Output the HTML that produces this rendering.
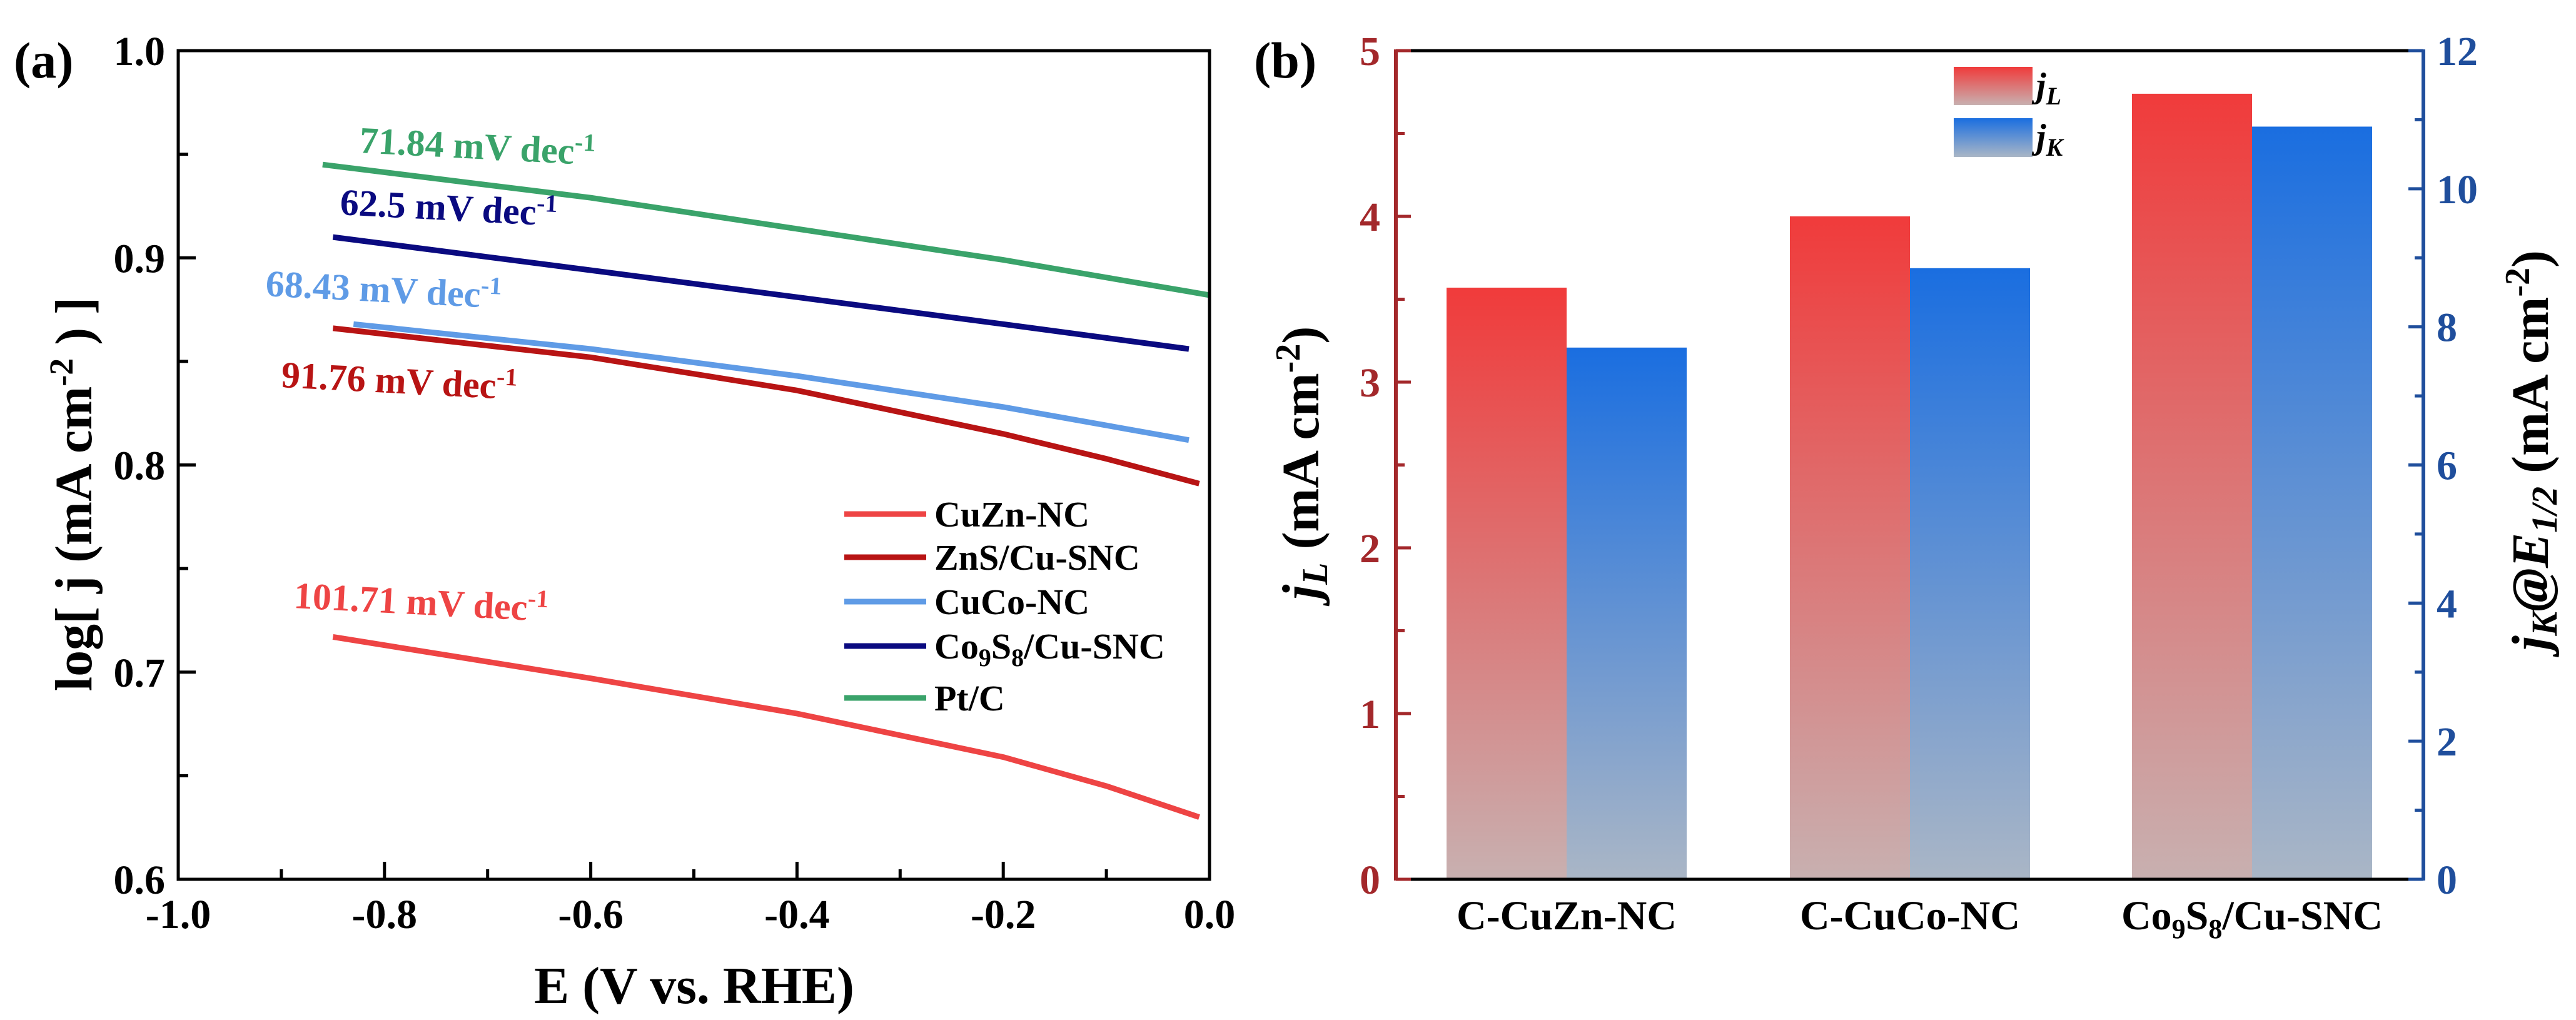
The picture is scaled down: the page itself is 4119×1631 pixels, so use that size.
<!DOCTYPE html>
<html><head><meta charset="utf-8"><style>
html,body{margin:0;padding:0;background:#fff}
svg{display:block;font-family:"Liberation Serif",serif;font-weight:bold}
</style></head><body>
<svg id="fig" width="4119" height="1631" viewBox="0 0 4119 1631" xmlns="http://www.w3.org/2000/svg">
<defs>
<linearGradient id="gr" x1="0" y1="0" x2="0" y2="1"><stop offset="0" stop-color="#f03b3b"/><stop offset="1" stop-color="#c8b0b0"/></linearGradient>
<linearGradient id="gb" x1="0" y1="0" x2="0" y2="1"><stop offset="0" stop-color="#1a6ee0"/><stop offset="1" stop-color="#aab6c6"/></linearGradient>
</defs>
<g id="pa"></g>
<g id="pb"></g>
</svg>
<script>
// Panel A data
const seriesNames = ["CuZn-NC","ZnS/Cu-SNC","CuCo-NC","Co9S8/Cu-SNC","Pt/C"];
const seriesColors = ["#ee4444","#b81414","#5f9be6","#0a0a80","#3aa36a"];
const xCuZn = [-0.85,-0.6,-0.4,-0.2,-0.1,-0.01];
const yCuZn = [0.717,0.697,0.680,0.659,0.645,0.630];
const xZnS = [-0.85,-0.6,-0.4,-0.2,-0.1,-0.01];
const yZnS = [0.866,0.852,0.836,0.815,0.803,0.791];
const xCuCo = [-0.83,-0.6,-0.4,-0.2,-0.02];
const yCuCo = [0.868,0.856,0.843,0.828,0.812];
const xCoS = [-0.85,-0.6,-0.4,-0.2,-0.02];
const yCoS = [0.910,0.894,0.881,0.868,0.856];
const xPt = [-0.86,-0.6,-0.4,-0.2,0.0];
const yPt = [0.945,0.929,0.914,0.899,0.882];
const slopeLabels = ["101.71","91.76","68.43","62.5","71.84"];
const xTicksA = [-1.0,-0.8,-0.6,-0.4,-0.2,0.0];
const yTicksA = [0.6,0.7,0.8,0.9,1.0];
// Panel B data
const categories = ["C-CuZn-NC","C-CuCo-NC","Co9S8/Cu-SNC"];
const jL = [3.57,4.0,4.74];
const jK = [7.7,8.85,10.9];
const yTicksL = [0,1,2,3,4,5];
const yTicksR = [0,2,4,6,8,10,12];

const NS="http://www.w3.org/2000/svg";
function mk(p,t,a,txt){const e=document.createElementNS(NS,t);for(const k in a)e.setAttribute(k,a[k]);if(txt!==undefined)e.textContent=txt;p.appendChild(e);return e;}

// ---- Panel A
const A=document.getElementById('pa');
const L=285,R=1934,T=81,B=1406;
const xa=v=>L+(v+1)*(R-L);
const ya=v=>B-(v-0.6)/0.4*(B-T);
const xs=[xCuZn,xZnS,xCuCo,xCoS,xPt], ys=[yCuZn,yZnS,yCuCo,yCoS,yPt];
for(let i=0;i<5;i++){
  const d=xs[i].map((x,j)=>(j?'L':'M')+xa(x).toFixed(1)+','+ya(ys[i][j]).toFixed(1)).join(' ');
  const p=mk(A,'path',{d:d,fill:'none',stroke:seriesColors[i],'stroke-width':9,'stroke-linejoin':'round'});
  
  
}
const annPos=[[469,972],[449,619],[424,473],[543,343],[574,244]];
for(let i=0;i<5;i++){
  const t=mk(A,'text',{x:annPos[i][0],y:annPos[i][1],fill:seriesColors[i],'font-size':60,transform:'rotate(3 '+annPos[i][0]+' '+annPos[i][1]+')'});
  
  
  t.innerHTML=slopeLabels[i]+' mV dec<tspan dy="-22" font-size="40">-1</tspan>';
}
mk(A,'rect',{x:L,y:T,width:R-L,height:B-T,fill:'none',stroke:'#000','stroke-width':5});
for(let v=-1;v<=0.001;v+=0.1){const X=xa(v);const maj=Math.abs(Math.round(v*10)%2)===0;mk(A,'line',{x1:X,y1:B,x2:X,y2:B-(maj?28:16),stroke:'#000','stroke-width':5});}
for(let v=0.6;v<=1.0001;v+=0.05){const Y=ya(v);const maj=Math.abs(Math.round(v*100)%10)===0;mk(A,'line',{x1:L,y1:Y,x2:L+(maj?28:16),y2:Y,stroke:'#000','stroke-width':5});}
xTicksA.forEach(v=>{const t=mk(A,'text',{x:xa(v),y:1484,'text-anchor':'middle','font-size':66},v.toFixed(1));});
yTicksA.forEach(v=>{const t=mk(A,'text',{x:264,y:ya(v)+23,'text-anchor':'end','font-size':66},v.toFixed(1));});
let t=mk(A,'text',{x:1110,y:1604,'text-anchor':'middle','font-size':84},'E (V vs. RHE)');
t=mk(A,'text',{x:0,y:0,'text-anchor':'middle','font-size':84,transform:'translate(146 790) rotate(-90)'});
t.innerHTML='log[ j (mA cm<tspan dy="-30" font-size="54">-2</tspan><tspan dy="30"> ) ]</tspan>';
t=mk(A,'text',{x:22,y:124,'font-size':82},'(a)');
const legY=[822,891,962,1033,1116];
for(let i=0;i<5;i++){
  const g=mk(A,'g',{});
  mk(g,'line',{x1:1350,x2:1481,y1:legY[i],y2:legY[i],stroke:seriesColors[i],'stroke-width':9});
  const tt=mk(g,'text',{x:1494,y:legY[i]+20,'font-size':58});
  if(i===3) tt.innerHTML='Co<tspan dy="12" font-size="40">9</tspan><tspan dy="-12">S</tspan><tspan dy="12" font-size="40">8</tspan><tspan dy="-12">/Cu-SNC</tspan>';
  else tt.textContent=seriesNames[i];
}
// ---- Panel B
const P=document.getElementById('pb');
const BL=2232,BR=3875;
const yl=v=>B-v/5*(B-T), yr=v=>B-v/12*(B-T);
const redX=[2313,2862,3409], bw=192;
for(let i=0;i<3;i++){
  let r=mk(P,'rect',{x:redX[i],y:yl(jL[i]),width:bw,height:B-yl(jL[i]),fill:'url(#gr)'});
  
  r=mk(P,'rect',{x:redX[i]+bw,y:yr(jK[i]),width:bw,height:B-yr(jK[i]),fill:'url(#gb)'});
  
  const c=mk(P,'text',{x:redX[i]+bw,y:1486,'text-anchor':'middle','font-size':66});
  
  if(i===2) c.innerHTML='Co<tspan dy="14" font-size="44">9</tspan><tspan dy="-14">S</tspan><tspan dy="14" font-size="44">8</tspan><tspan dy="-14">/Cu-SNC</tspan>';
  else c.textContent=categories[i];
}
mk(P,'line',{x1:BL,x2:BR,y1:T,y2:T,stroke:'#000','stroke-width':5});
mk(P,'line',{x1:BL,x2:BR,y1:B,y2:B,stroke:'#000','stroke-width':5});
mk(P,'line',{x1:BL,x2:BL,y1:T-2,y2:B+2,stroke:'#a3282b','stroke-width':6});
mk(P,'line',{x1:BR,x2:BR,y1:T-2,y2:B+2,stroke:'#1f4e9c','stroke-width':6});
for(let v=0;v<=5;v+=0.5){const Y=yl(v);mk(P,'line',{x1:BL,x2:BL+(v%1===0?24:14),y1:Y,y2:Y,stroke:'#a3282b','stroke-width':5});}
for(let v=0;v<=12;v+=1){const Y=yr(v);mk(P,'line',{x1:BR,x2:BR-(v%2===0?24:14),y1:Y,y2:Y,stroke:'#1f4e9c','stroke-width':5});}
yTicksL.forEach(v=>{const q=mk(P,'text',{x:2207,y:yl(v)+23,'text-anchor':'end','font-size':66,fill:'#a3282b'},String(v));});
yTicksR.forEach(v=>{const q=mk(P,'text',{x:3896,y:yr(v)+23,'font-size':66,fill:'#1f4e9c'},String(v));});
t=mk(P,'text',{x:0,y:0,'text-anchor':'middle','font-size':84,transform:'translate(2108 740) rotate(-90)'});
t.innerHTML='<tspan font-style="italic">j</tspan><tspan font-style="italic" font-size="58" dy="14">L</tspan><tspan dy="-14"> (mA cm</tspan><tspan dy="-30" font-size="56">-2</tspan><tspan dy="30">)</tspan>';
t=mk(P,'text',{x:0,y:0,'text-anchor':'middle','font-size':84,transform:'translate(4074 720) rotate(-90)'});
t.innerHTML='<tspan font-style="italic">j</tspan><tspan font-style="italic" font-size="58" dy="14">K</tspan><tspan dy="-14" font-style="italic">@E</tspan><tspan font-style="italic" font-size="58" dy="14">1/2</tspan><tspan dy="-14"> (mA cm</tspan><tspan dy="-30" font-size="56">-2</tspan><tspan dy="30">)</tspan>';
t=mk(P,'text',{x:2005,y:124,'font-size':82},'(b)');
let g=mk(P,'g',{});
mk(g,'rect',{x:3124,y:107,width:126,height:61,fill:'url(#gr)'});
mk(g,'text',{x:3256,y:155,'font-size':56,'font-style':'italic'}).innerHTML='j<tspan dy="12" font-size="40">L</tspan>';
g=mk(P,'g',{});
mk(g,'rect',{x:3124,y:189,width:126,height:62,fill:'url(#gb)'});
mk(g,'text',{x:3256,y:237,'font-size':56,'font-style':'italic'}).innerHTML='j<tspan dy="12" font-size="40">K</tspan>';
</script>
</body></html>
